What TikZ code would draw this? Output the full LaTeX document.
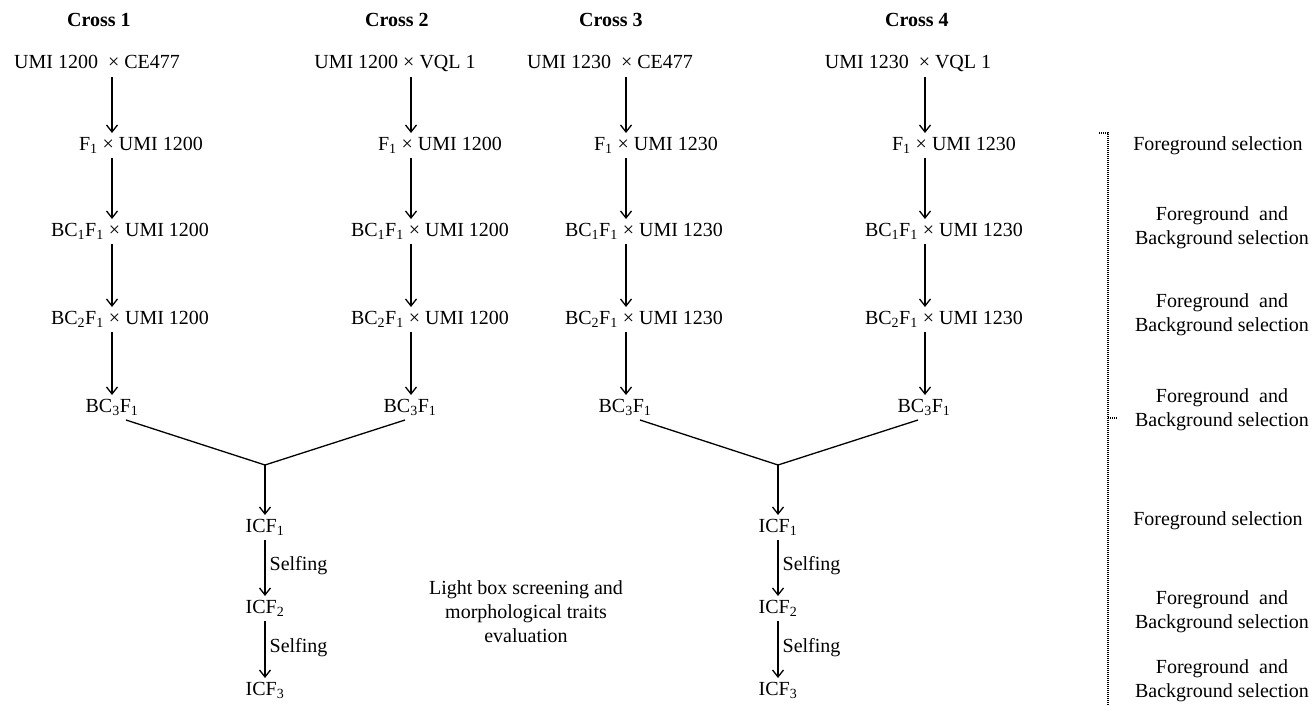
\documentclass[tikz,border=0pt]{standalone}
\usepackage{fontspec}
\setmainfont{Liberation Serif}
\usetikzlibrary{arrows.meta}
\newcommand{\sbs}[1]{\textsubscript{#1}}
\begin{document}
\begin{tikzpicture}[x=1pt,y=-1pt,font=\fontsize{20}{24}\selectfont,
  lbl/.style={inner sep=0pt,outer sep=3pt,anchor=base,text height=14pt,text depth=5pt},
  ttl/.style={inner sep=0pt,anchor=base,font=\fontsize{20}{24}\selectfont\bfseries},
  arr/.style={-{Straight Barb[length=7pt,width=11pt]},line width=1.3pt},
  ln/.style={line width=1.3pt},
  sel/.style={inner sep=0pt,align=center},
  dotln/.style={dash pattern=on 1pt off 1pt,line width=1.2pt}]
\useasboundingbox (0,0) rectangle (1314,706);
% arrow columns
\coordinate (x1) at (112,0);
\coordinate (x2) at (411,0);
\coordinate (x3) at (626,0);
\coordinate (x4) at (925,0);
% titles
\node[ttl] (t1) at (99,27) {Cross 1};
\node[ttl] (t2) at (397,27) {Cross 2};
\node[ttl] (t3) at (611,27) {Cross 3};
\node[ttl] (t4) at (917,27) {Cross 4};
% cross 1
\node[lbl] (c1r0) at (97,69) {UMI 1200\ \ × CE477};
\node[lbl] (c1r1) at (141,150) {F\sbs{1} × UMI 1200};
\node[lbl] (c1r2) at (130,236) {BC\sbs{1}F\sbs{1} × UMI 1200};
\node[lbl] (c1r3) at (130,324) {BC\sbs{2}F\sbs{1} × UMI 1200};
\node[lbl] (c1r4) at (112,412) {BC\sbs{3}F\sbs{1}};
% cross 2
\node[lbl] (c2r0) at (395,69) {UMI 1200 × VQL 1};
\node[lbl] (c2r1) at (440,150) {F\sbs{1} × UMI 1200};
\node[lbl] (c2r2) at (430,236) {BC\sbs{1}F\sbs{1} × UMI 1200};
\node[lbl] (c2r3) at (430,324) {BC\sbs{2}F\sbs{1} × UMI 1200};
\node[lbl] (c2r4) at (410,412) {BC\sbs{3}F\sbs{1}};
% cross 3
\node[lbl] (c3r0) at (610,69) {UMI 1230\ \ × CE477};
\node[lbl] (c3r1) at (656,150) {F\sbs{1} × UMI 1230};
\node[lbl] (c3r2) at (644,236) {BC\sbs{1}F\sbs{1} × UMI 1230};
\node[lbl] (c3r3) at (644,324) {BC\sbs{2}F\sbs{1} × UMI 1230};
\node[lbl] (c3r4) at (625,412) {BC\sbs{3}F\sbs{1}};
% cross 4
\node[lbl] (c4r0) at (908,69) {UMI 1230\ \ × VQL 1};
\node[lbl] (c4r1) at (954,150) {F\sbs{1} × UMI 1230};
\node[lbl] (c4r2) at (944,236) {BC\sbs{1}F\sbs{1} × UMI 1230};
\node[lbl] (c4r3) at (944,324) {BC\sbs{2}F\sbs{1} × UMI 1230};
\node[lbl] (c4r4) at (924,412) {BC\sbs{3}F\sbs{1}};
% vertical arrows
\foreach \c in {1,2,3,4}{
  \draw[arr] (c\c r0.south -| x\c) -- (c\c r1.north -| x\c);
  \draw[arr] (c\c r1.south -| x\c) -- (c\c r2.north -| x\c);
  \draw[arr] (c\c r2.south -| x\c) -- (c\c r3.north -| x\c);
  \draw[arr] (c\c r3.south -| x\c) -- (c\c r4.north -| x\c);
}
% merges
\coordinate (m1) at (265,465);
\coordinate (m2) at (778,465);
\draw[ln] ([xshift=14pt]c1r4.south) -- (m1) -- ([xshift=-5pt]c2r4.south);
\draw[ln] ([xshift=15pt]c3r4.south) -- (m2) -- ([xshift=-6pt]c4r4.south);
% intercross lines
\node[lbl] (a1) at (265,532) {ICF\sbs{1}};
\node[lbl] (a2) at (265,613) {ICF\sbs{2}};
\node[lbl] (a3) at (265,695) {ICF\sbs{3}};
\node[lbl] (b1) at (778,532) {ICF\sbs{1}};
\node[lbl] (b2) at (778,613) {ICF\sbs{2}};
\node[lbl] (b3) at (778,695) {ICF\sbs{3}};
\draw[arr] (m1) -- (a1.north);
\draw[arr] (m2) -- (b1.north);
\draw[arr] (a1.south) -- node[right,inner sep=4pt,yshift=2pt] (s1) {Selfing} (a2.north);
\draw[arr] (a2.south) -- node[right,inner sep=4pt,yshift=2pt] (s2) {Selfing} (a3.north);
\draw[arr] (b1.south) -- node[right,inner sep=4pt,yshift=2pt] (s3) {Selfing} (b2.north);
\draw[arr] (b2.south) -- node[right,inner sep=4pt,yshift=2pt] (s4) {Selfing} (b3.north);
% light box text
\node[sel] (lb) at (526,612) {Light box screening and\\morphological traits\\evaluation};
% right column
\node[sel] (r1) at (1218,146) {Foreground selection};
\node[sel] (r2) at (1222,228) {Foreground\ \ and\\Background selection};
\node[sel] (r3) at (1222,315) {Foreground\ \ and\\Background selection};
\node[sel] (r4) at (1222,410) {Foreground\ \ and\\Background selection};
\node[sel] (r5) at (1218,521) {Foreground selection};
\node[sel] (r6) at (1222,612) {Foreground\ \ and\\Background selection};
\node[sel] (r7) at (1222,681) {Foreground\ \ and\\Background selection};
% dotted bracket
\draw[dotln] (1099,133) -- (1108,133) -- (1108,706);
\draw[dotln] (1108,418) -- (1118,418);
\end{tikzpicture}
\end{document}
